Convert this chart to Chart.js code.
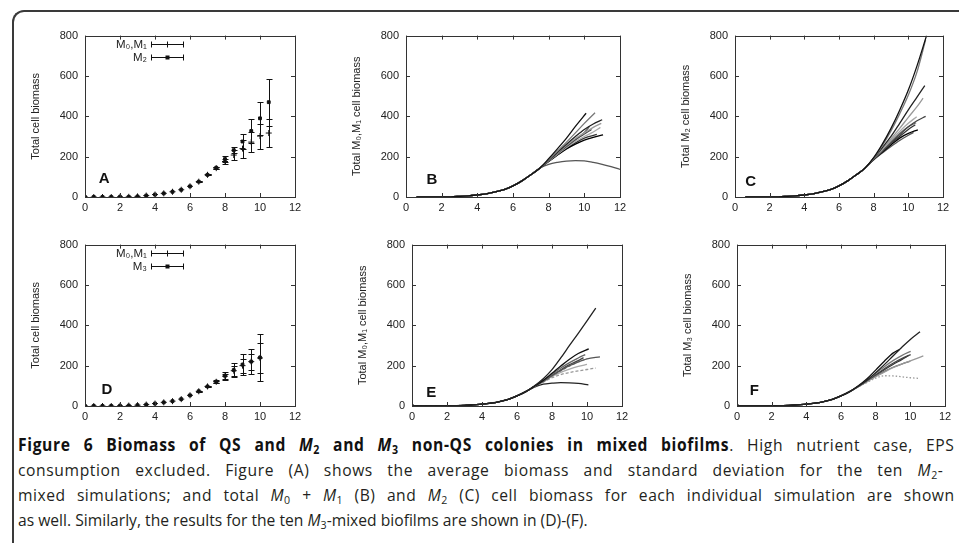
<!DOCTYPE html>
<html>
<head>
<meta charset="utf-8">
<script src="https://cdn.jsdelivr.net/npm/chart.js@4.4.0/dist/chart.umd.min.js"></script>
<style>
  html, body { margin: 0; padding: 0; background: #fff; }
  body { width: 959px; height: 543px; position: relative; overflow: hidden; }
  #frame { position: absolute; left: 12px; top: 10px; width: 1000px; height: 560px;
           border: 2px solid #3a3a3a; border-right: none; border-bottom: none; border-top-left-radius: 12px; }
  canvas { position: absolute; }
  #caption { position: absolute; left: 18px; top: 432px; width: 1100px; font-family: "Open Sans", sans-serif;
             font-size: 17px; line-height: 25px; color: #231f20; transform: scaleX(0.92); transform-origin: 0 0; }
  #caption .ln { display: inline-block; white-space: nowrap; }
  #caption b { color: #111; }
  #caption sub { font-size: 0.68em; vertical-align: -0.25em; line-height: 0; }
</style>
</head>
<body>
<div id="frame"></div>
<canvas id="pa"></canvas>
<canvas id="pb"></canvas>
<canvas id="pc"></canvas>
<canvas id="pd"></canvas>
<canvas id="pe"></canvas>
<canvas id="pf"></canvas>
<div id="caption">
  <div><span class="ln" data-w="1018"><b>Figure 6 Biomass of QS and <i>M</i><sub>2</sub> and <i>M</i><sub>3</sub> non-QS colonies in mixed biofilms</b>. High nutrient case, EPS</span></div>
  <div><span class="ln" data-w="1006">consumption excluded. Figure (A) shows the average biomass and standard deviation for the ten <i>M</i><sub>2</sub>-</span></div>
  <div><span class="ln" data-w="1018">mixed simulations; and total <i>M</i><sub>0</sub> + <i>M</i><sub>1</sub> (B) and <i>M</i><sub>2</sub> (C) cell biomass for each individual simulation are shown</span></div>
  <div><span class="ln">as well. Similarly, the results for the ten <i>M</i><sub>3</sub>-mixed biofilms are shown in (D)-(F).</span></div>
</div>
<script>
// axes
var xTicks = [0, 2, 4, 6, 8, 10, 12];
var yTicks = [0, 200, 400, 600, 800];

// panel A: averages and std deviations (M2-mixed)
var aX      = [0, 0.5, 1, 1.5, 2, 2.5, 3, 3.5, 4, 4.5, 5, 5.5, 6, 6.5, 7, 7.5, 8, 8.5, 9, 9.5, 10, 10.5];
var aM2     = [0, 0, 0, 0, 1, 1, 3, 7, 12, 18, 26, 36, 53, 76, 110, 145, 188, 232, 275, 327, 390, 470];
var aM2Err  = [0, 0, 0, 0, 0, 0, 0, 0, 0, 0, 0, 0, 0, 2, 3, 5, 13, 15, 38, 58, 83, 117];
var aM01    = [0, 0, 0, 0, 1, 1, 3, 7, 12, 18, 26, 36, 53, 76, 110, 143, 176, 208, 240, 272, 302, 317];
var aM01Err = [0, 0, 0, 0, 0, 0, 0, 0, 0, 0, 0, 0, 0, 2, 3, 5, 10, 25, 45, 50, 62, 70];

// panel D: averages and std deviations (M3-mixed)
var dX      = [0, 0.5, 1, 1.5, 2, 2.5, 3, 3.5, 4, 4.5, 5, 5.5, 6, 6.5, 7, 7.5, 8, 8.5, 9, 9.5, 10];
var dM3     = [0, 0, 0, 0, 1, 2, 4, 7, 12, 18, 24, 34, 53, 73, 97, 121, 150, 178, 205, 220, 240];
var dM3Err  = [0, 0, 0, 0, 0, 0, 0, 0, 0, 0, 0, 0, 0, 2, 3, 8, 20, 35, 52, 62, 115];
var dM01    = [0, 0, 0, 0, 1, 2, 4, 7, 12, 18, 24, 34, 53, 73, 97, 120, 148, 175, 200, 220, 238];
var dM01Err = [0, 0, 0, 0, 0, 0, 0, 0, 0, 0, 0, 0, 0, 2, 3, 6, 12, 25, 35, 40, 72];

// shared early growth (all runs overlap here)
var trunkTopX = [0.6, 1, 1.5, 2, 2.5, 3, 3.5, 4, 4.5, 5, 5.5, 6, 6.5, 7, 7.5];
var trunkTopY = [0, 0, 0, 1, 1, 3, 6, 10, 16, 25, 37, 55, 80, 110, 143];
var trunkBotX = [0, 0.5, 1, 1.5, 2, 2.5, 3, 3.5, 4, 4.5, 5, 5.5, 6, 6.5];
var trunkBotY = [3, 1, 1, 1, 1, 2, 3, 6, 9, 14, 22, 33, 50, 71];

// individual runs after they split, [x, y]
var runsB = [
  [[8, 190], [8.5, 240], [9, 292], [9.5, 350], [10.1, 415]],
  [[8, 185], [8.5, 228], [9, 272], [9.5, 318], [10, 365], [10.6, 418]],
  [[8, 182], [8.5, 222], [9, 262], [9.5, 300], [10, 335], [10.5, 362], [11, 383]],
  [[8, 180], [8.5, 218], [9, 255], [9.5, 290], [10, 318], [10.5, 345], [10.95, 365]],
  [[8, 180], [8.5, 216], [9, 250], [9.5, 285], [10, 312], [10.4, 335]],
  [[8, 178], [8.5, 212], [9, 245], [9.5, 275], [10, 300], [10.5, 322], [10.9, 345]],
  [[8, 176], [8.5, 208], [9, 238], [9.5, 262], [10, 282], [10.5, 296], [11.05, 308]],
  [[8, 178], [8.5, 214], [9, 248], [9.5, 282], [10, 320], [10.3, 350]],
  [[8, 177], [8.5, 210], [9, 240], [9.5, 268], [10, 292], [10.7, 310]],
  [[8, 162], [8.5, 172], [9, 178], [9.5, 180], [10, 179], [10.5, 172], [11, 162], [11.5, 150], [12, 137]]
];
var runsC = [
  [[8, 195], [8.5, 262], [9, 340], [9.5, 430], [10, 530], [10.5, 650], [11.05, 800]],
  [[8, 192], [8.5, 255], [9, 328], [9.5, 412], [10, 505], [10.5, 620], [11, 780]],
  [[8, 192], [8.5, 245], [9, 300], [9.5, 365], [10, 432], [10.5, 495], [10.95, 552]],
  [[8, 190], [8.5, 238], [9, 288], [9.5, 340], [10, 395], [10.5, 448], [10.85, 490]],
  [[8, 186], [8.5, 225], [9, 268], [9.5, 308], [10, 348], [10.5, 378], [11, 400]],
  [[8, 188], [8.5, 234], [9, 282], [9.5, 325], [10, 365], [10.48, 398]],
  [[8, 185], [8.5, 222], [9, 258], [9.5, 292], [10, 315], [10.55, 333]],
  [[8, 187], [8.5, 230], [9, 275], [9.5, 315], [10, 348], [10.45, 368]],
  [[8, 186], [8.5, 226], [9, 266], [9.5, 300], [10, 335], [10.4, 358]],
  [[8, 184], [8.5, 218], [9, 250], [9.5, 280], [10, 306], [10.3, 320]]
];
var runsE = [
  [[7, 100], [7.5, 135], [8, 180], [8.5, 238], [9, 300], [9.5, 360], [10, 422], [10.5, 485]],
  [[7, 98], [7.5, 127], [8, 162], [8.5, 198], [9, 232], [9.5, 260], [10.1, 283]],
  [[7, 97], [7.5, 122], [8, 150], [8.5, 176], [9, 200], [9.5, 218], [10, 234], [10.74, 244]],
  [[7, 97], [7.5, 121], [8, 148], [8.5, 174], [9, 198], [9.5, 218], [9.98, 234]],
  [[7, 96], [7.5, 118], [8, 140], [8.5, 156], [9, 166], [9.5, 174], [10, 181], [10.5, 188]],
  [[7, 94], [7.5, 108], [8, 113], [8.5, 116], [9, 115], [9.5, 112], [10.08, 105]],
  [[7, 98], [7.5, 124], [8, 157], [8.5, 188], [9, 215], [9.5, 238], [9.9, 255]],
  [[7, 97], [7.5, 120], [8, 146], [8.5, 167], [9, 183], [9.5, 196], [10, 206]],
  [[7, 97], [7.5, 123], [8, 152], [8.5, 180], [9, 205], [9.5, 225], [9.8, 240]]
];
var runsF = [
  [[7, 98], [7.5, 128], [8, 165], [8.5, 205], [9, 248], [9.5, 290], [10, 330], [10.56, 368]],
  [[7, 100], [7.5, 135], [8, 178], [8.5, 222], [9, 262], [9.37, 280]],
  [[7, 98], [7.5, 128], [8, 162], [8.5, 195], [9, 225], [9.5, 250], [10.02, 271]],
  [[7, 97], [7.5, 125], [8, 155], [8.5, 185], [9, 212], [9.5, 235], [10.02, 255]],
  [[7, 96], [7.5, 120], [8, 145], [8.5, 168], [9, 190], [9.5, 208], [10, 224], [10.5, 240], [10.75, 248]],
  [[7, 96], [7.5, 121], [8, 148], [8.5, 172], [9, 192], [9.5, 208], [10, 222]],
  [[7, 95], [7.5, 117], [8, 138], [8.5, 150], [9, 149], [9.5, 145], [10, 140], [10.52, 137]],
  [[7, 97], [7.5, 124], [8, 152], [8.5, 180], [9, 206], [9.5, 230], [9.9, 250]]
];

var FONT = '"Liberation Sans", Arial, sans-serif';
var colorsB = ['#111', '#777', '#222', '#999', '#444', '#aaa', '#000', '#666', '#333', '#555'];
var colorsE = ['#222', '#111', '#555', '#888', '#999', '#222', '#666', '#aaa', '#444'];
var colorsF = ['#222', '#111', '#777', '#444', '#999', '#666', '#999', '#333'];

// plot area of each panel in page pixels
var panels = {
  pa: { L: 85,  R: 295, T: 32,  B: 197 },
  pb: { L: 406, R: 620, T: 32,  B: 197 },
  pc: { L: 735, R: 943, T: 32,  B: 197 },
  pd: { L: 85,  R: 295, T: 241, B: 406 },
  pe: { L: 412, R: 622, T: 241, B: 406 },
  pf: { L: 737, R: 945, T: 241, B: 406 }
};
var AXIS_W = 60, AXIS_H = 22, PAD_T = 10, PAD_R = 14;

function points(xs, ys) {
  return xs.map(function(x, i) { return { x: x, y: ys[i] }; });
}

// gnuplot look: box, inward mirrored ticks, error bars, letter, key
var gnuplotFrame = {
  id: 'gnuplotFrame',
  afterDatasetsDraw: function(chart, args, opts) {
    var ctx = chart.ctx, a = chart.chartArea, sx = chart.scales.x, sy = chart.scales.y;
    ctx.save();

    chart.data.datasets.forEach(function(ds) {
      if (!ds.errors) return;
      ctx.strokeStyle = '#111';
      ctx.lineWidth = 1;
      ctx.beginPath();
      ds.data.forEach(function(p, i) {
        var e = ds.errors[i];
        if (!e) return;
        var px = Math.round(sx.getPixelForValue(p.x)) + 0.5;
        var y1 = Math.round(sy.getPixelForValue(p.y + e)) + 0.5;
        var y2 = Math.round(sy.getPixelForValue(p.y - e)) + 0.5;
        ctx.moveTo(px, y1); ctx.lineTo(px, y2);
        ctx.moveTo(px - 3, y1); ctx.lineTo(px + 3, y1);
        ctx.moveTo(px - 3, y2); ctx.lineTo(px + 3, y2);
      });
      ctx.stroke();
    });

    ctx.strokeStyle = '#333';
    ctx.lineWidth = 1;
    ctx.strokeRect(Math.round(a.left) + 0.5, Math.round(a.top) + 0.5,
                   Math.round(a.right - a.left), Math.round(a.bottom - a.top));
    ctx.beginPath();
    sx.ticks.forEach(function(t) {
      var px = Math.round(sx.getPixelForValue(t.value)) + 0.5;
      ctx.moveTo(px, a.bottom); ctx.lineTo(px, a.bottom - 4);
      ctx.moveTo(px, a.top); ctx.lineTo(px, a.top + 4);
    });
    sy.ticks.forEach(function(t) {
      var py = Math.round(sy.getPixelForValue(t.value)) + 0.5;
      ctx.moveTo(a.left, py); ctx.lineTo(a.left + 4, py);
      ctx.moveTo(a.right, py); ctx.lineTo(a.right - 4, py);
    });
    ctx.stroke();

    if (opts.letter) {
      ctx.font = 'bold 15px ' + FONT;
      ctx.fillStyle = '#111';
      ctx.textAlign = 'center';
      ctx.textBaseline = 'middle';
      ctx.fillText(opts.letter[0], sx.getPixelForValue(opts.letter[1]), sy.getPixelForValue(opts.letter[2]));
    }

    if (opts.key) {
      ctx.font = '11.5px ' + FONT;
      ctx.textAlign = 'right';
      ctx.textBaseline = 'middle';
      opts.key.forEach(function(row, i) {
        var y = Math.round(a.top + 8 + i * 13) + 0.5;
        var x0 = Math.round(a.left + 66) + 0.5, x1 = x0 + 32, xm = x0 + 16;
        ctx.fillStyle = '#222';
        ctx.fillText(row.text, a.left + 62, y);
        ctx.strokeStyle = '#111';
        ctx.beginPath();
        ctx.moveTo(x0, y); ctx.lineTo(x1, y);
        ctx.moveTo(x0, y - 3); ctx.lineTo(x0, y + 3);
        ctx.moveTo(x1, y - 3); ctx.lineTo(x1, y + 3);
        if (row.style === 'cross') { ctx.moveTo(xm, y - 3); ctx.lineTo(xm, y + 3); }
        ctx.stroke();
        if (row.style === 'rect') { ctx.fillStyle = '#111'; ctx.fillRect(xm - 2, y - 2, 4, 4); }
      });
    }
    ctx.restore();
  }
};

function makeChart(id, yTitle, datasets, frameOpts) {
  var p = panels[id];
  var cv = document.getElementById(id);
  cv.width = p.R - p.L + AXIS_W + PAD_R;
  cv.height = p.B - p.T + PAD_T + AXIS_H;
  cv.style.left = (p.L - AXIS_W) + 'px';
  cv.style.top = (p.T - PAD_T) + 'px';
  return new Chart(cv.getContext('2d'), {
    type: 'line',
    data: { datasets: datasets },
    plugins: [gnuplotFrame],
    options: {
      responsive: false,
      animation: false,
      devicePixelRatio: 1,
      layout: { padding: { top: PAD_T, right: PAD_R, left: 0, bottom: 0 } },
      plugins: { legend: { display: false }, tooltip: { enabled: false }, gnuplotFrame: frameOpts },
      scales: {
        x: {
          type: 'linear', min: xTicks[0], max: xTicks[xTicks.length - 1],
          grid: { display: false, drawTicks: false }, border: { display: false },
          ticks: { stepSize: 2, padding: 4, color: '#222', font: { family: FONT, size: 11 } },
          afterFit: function(s) { s.height = AXIS_H; }
        },
        y: {
          type: 'linear', min: yTicks[0], max: yTicks[yTicks.length - 1],
          grid: { display: false, drawTicks: false }, border: { display: false },
          ticks: { stepSize: 200, padding: 7, color: '#222', font: { family: FONT, size: 11 } },
          title: { display: true, text: yTitle, color: '#222', padding: { top: 4, bottom: 0 },
                   font: { family: FONT, size: 11 } },
          afterFit: function(s) { s.width = AXIS_W; }
        }
      }
    }
  });
}

function meanSets(xs, m01, e01, m2, e2) {
  return [
    { data: points(xs, m01), errors: e01, showLine: false, pointStyle: 'cross', pointRadius: 3,
      borderColor: '#111', backgroundColor: '#111', borderWidth: 1 },
    { data: points(xs, m2), errors: e2, showLine: false, pointStyle: 'rect', pointRadius: 2,
      borderColor: '#111', backgroundColor: '#111', borderWidth: 1 }
  ];
}

function runSets(runs, trunkX, trunkY, dash, colors) {
  var trunk = points(trunkX, trunkY);
  return runs.map(function(run, i) {
    var tail = run.map(function(q) { return { x: q[0], y: q[1] }; });
    return {
      data: trunk.concat(tail), pointRadius: 0, borderWidth: 1.3, fill: false,
      borderColor: colors[i % colors.length], cubicInterpolationMode: 'monotone',
      borderDash: dash[i] || []
    };
  });
}

makeChart('pa', 'Total cell biomass', meanSets(aX, aM01, aM01Err, aM2, aM2Err),
  { letter: ['A', 1.1, 92], key: [{ text: 'M\u2080,M\u2081', style: 'cross' }, { text: 'M\u2082', style: 'rect' }] });
makeChart('pb', 'Total M\u2080,M\u2081 cell biomass', runSets(runsB, trunkTopX, trunkTopY, {}, colorsB),
  { letter: ['B', 1.45, 83] });
makeChart('pc', 'Total M\u2082 cell biomass', runSets(runsC, trunkTopX, trunkTopY, {}, colorsB),
  { letter: ['C', 0.9, 73] });
makeChart('pd', 'Total cell biomass', meanSets(dX, dM01, dM01Err, dM3, dM3Err),
  { letter: ['D', 1.25, 78], key: [{ text: 'M\u2080,M\u2081', style: 'cross' }, { text: 'M\u2083', style: 'rect' }] });
makeChart('pe', 'Total M\u2080,M\u2081 cell biomass', runSets(runsE, trunkBotX, trunkBotY, { 3: [3, 2], 4: [3, 2] }, colorsE),
  { letter: ['E', 1.1, 63] });
makeChart('pf', 'Total M\u2083 cell biomass', runSets(runsF, trunkBotX, trunkBotY, { 6: [1.5, 2] }, colorsF),
  { letter: ['F', 1.0, 73] });

// justified caption lines: a little letter spacing, the rest between words
Array.prototype.forEach.call(document.querySelectorAll('#caption .ln[data-w]'), function(el) {
  var target = +el.getAttribute('data-w');
  var chars = el.textContent.replace(/\s+/g, ' ').trim().length;
  el.style.letterSpacing = (0.3 * (target - el.offsetWidth) / chars) + 'px';
  el.style.display = 'block';
  el.style.width = target + 'px';
  el.style.textAlign = 'justify';
  el.style.textAlignLast = 'justify';
});
</script>
</body>
</html>
